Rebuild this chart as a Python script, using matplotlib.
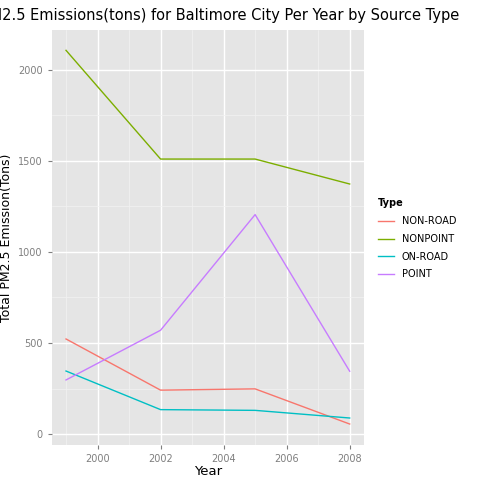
import matplotlib
matplotlib.use('Agg')
import matplotlib.pyplot as plt
from matplotlib.ticker import MultipleLocator

years = [1999, 2002, 2005, 2008]
types = ['NON-ROAD', 'NONPOINT', 'ON-ROAD', 'POINT']
non_road = [522, 241, 248, 55]
nonpoint = [2107, 1510, 1510, 1373]
on_road = [346, 134, 130, 88]
point = [297, 570, 1205, 345]
colors = ['#F8766D', '#7CAE00', '#00BFC4', '#C77CFF']

fig = plt.figure(figsize=(4.8, 4.8), dpi=100)
ax = fig.add_axes([0.108, 0.073, 0.65, 0.865])
ax.set_facecolor('#E5E5E5')

for vals, c, t in zip([non_road, nonpoint, on_road, point], colors, types):
    ax.plot(years, vals, color=c, lw=1.0, label=t)

ax.set_xlim(1998.55, 2008.45)
ax.set_ylim(-60, 2220)
ax.xaxis.set_major_locator(MultipleLocator(2))
ax.xaxis.set_minor_locator(MultipleLocator(1))
ax.yaxis.set_major_locator(MultipleLocator(500))
ax.yaxis.set_minor_locator(MultipleLocator(250))
ax.grid(which='major', color='white', lw=1.0)
ax.grid(which='minor', color='#F2F2F2', lw=0.5)
ax.set_axisbelow(True)
for s in ax.spines.values():
    s.set_visible(False)
ax.tick_params(which='both', length=3, color='#7F7F7F', labelsize=7, labelcolor='#7F7F7F')
ax.tick_params(which='minor', length=0)
ax.set_xlabel('Year', fontsize=9.5, labelpad=1)
ax.set_ylabel('Total PM2.5 Emission(Tons)', fontsize=9)

# title is wider than the figure and gets cut at the left edge, as in the reference
fig.text(0.418, 0.968,
         'Total PM2.5 Emissions(tons) for Baltimore City Per Year by Source Type',
         ha='center', va='center', fontsize=10.5)

leg = fig.legend(loc='upper left', bbox_to_anchor=(0.77, 0.605), frameon=False,
                 title='Type', fontsize=7, title_fontsize=7, handlelength=1.6,
                 labelspacing=0.8, alignment='left')
leg.get_title().set_fontweight('bold')

fig.savefig('out.png', dpi=100, facecolor='white')
